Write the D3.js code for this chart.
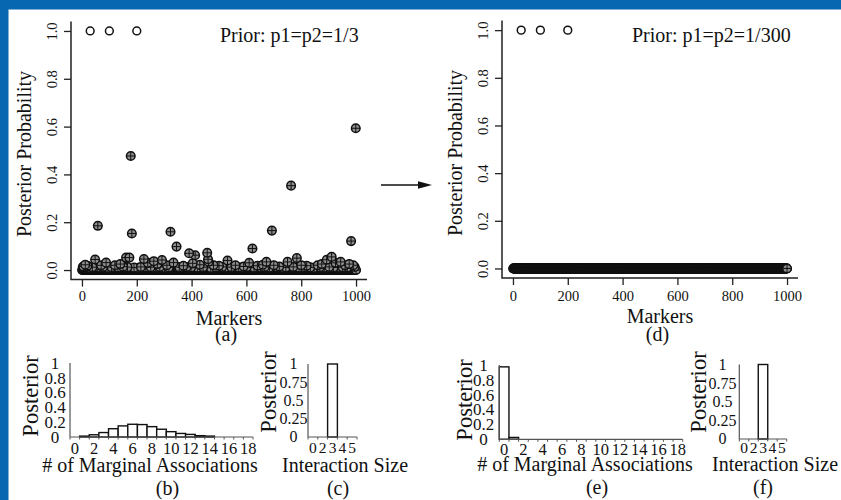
<!DOCTYPE html>
<html>
<head>
<meta charset="utf-8">
<script src="https://cdn.jsdelivr.net/npm/d3@7"></script>
<style>
  body { margin: 0; background: #fff; }
  text { font-family: "Liberation Serif", "Times New Roman", serif; fill: #111; }
</style>
</head>
<body>
<div id="fig"></div>
<script>
// ---- data ----
const markers = d3.range(1, 1001);            // marker index
const causalMarkers = [30, 100, 200];          // drawn as open circles
const causalPostA = [1, 1, 1];
const causalPostD = [1, 1, 1];

// markers in (a) with visible posterior above the baseline (all others ~0)
const outMarkersA = [58, 178, 182, 323, 345, 391, 413, 457, 460, 462, 622, 693, 763, 784, 982, 999,
  48, 88, 161, 173, 226, 262, 292, 334, 404, 531, 610, 673, 750, 893, 911, 944,
  5, 12, 20, 70, 120, 140, 240, 275, 310, 370, 430, 480, 500, 560, 590, 640, 660, 700, 720,
  800, 820, 860, 875, 925, 960, 975, 990,
  3, 9, 16, 27, 38, 44, 63, 77, 95, 108, 115, 131, 150, 166, 190, 207, 215, 233, 251, 268,
  284, 301, 317, 355, 363, 382, 398, 421, 442, 470, 489, 512, 523, 545, 572, 583, 601, 628,
  651, 667, 684, 711, 733, 744, 771, 792, 811, 833, 847, 868, 884, 902, 918, 933, 951, 968, 995];
const outPostA = [0.185, 0.477, 0.153, 0.16, 0.098, 0.07, 0.062, 0.072, 0.045, 0.035, 0.09, 0.165, 0.353, 0.05, 0.121, 0.593,
  0.044, 0.031, 0.052, 0.052, 0.046, 0.037, 0.042, 0.031, 0.028, 0.04, 0.03, 0.034, 0.034, 0.043, 0.055, 0.034,
  0.015, 0.022, 0.018, 0.02, 0.02, 0.025, 0.03, 0.025, 0.02, 0.018, 0.022, 0.02, 0.018, 0.02, 0.015, 0.018, 0.022, 0.02, 0.015,
  0.02, 0.018, 0.02, 0.025, 0.03, 0.02, 0.025, 0.02,
  0.012, 0.01, 0.014, 0.009, 0.012, 0.011, 0.01, 0.013, 0.009, 0.012, 0.01, 0.011, 0.014, 0.012, 0.01, 0.009, 0.013, 0.011, 0.012, 0.01,
  0.013, 0.009, 0.011, 0.012, 0.01, 0.013, 0.011, 0.01, 0.012, 0.009, 0.011, 0.013, 0.01, 0.012, 0.011, 0.009, 0.012, 0.01,
  0.011, 0.013, 0.01, 0.012, 0.009, 0.011, 0.013, 0.01, 0.012, 0.011, 0.009, 0.012, 0.01, 0.013, 0.011, 0.01, 0.012, 0.011, 0.013];

const margCats = d3.range(0, 19);
const margTicks = [0, 2, 4, 6, 8, 10, 12, 14, 16, 18];
const margPostB = [0, 0.012, 0.03, 0.06, 0.112, 0.15, 0.172, 0.168, 0.14, 0.105, 0.072, 0.048, 0.035, 0.018, 0.012, 0, 0, 0, 0];
const margPostE = [0.975, 0.025, 0, 0, 0, 0, 0, 0, 0, 0, 0, 0, 0, 0, 0, 0, 0, 0, 0];
const margYTicks = [0, 0.2, 0.4, 0.6, 0.8, 1];

const sizeCats = ["0", "2", "3", "4", "5"];
const sizePostC = [0, 0, 1, 0, 0];
const sizePostF = [0, 0, 1, 0, 0];
const sizeYTicks = [0, 0.25, 0.5, 0.75, 1];

const scatterXTicks = [0, 200, 400, 600, 800, 1000];
const scatterYTicks = [0, 0.2, 0.4, 0.6, 0.8, 1.0];

// ---- svg ----
const svg = d3.select("#fig").append("svg").attr("width", 841).attr("height", 500);
svg.append("rect").attr("width", 841).attr("height", 500).attr("fill", "#fff");
svg.append("rect").attr("x", 0).attr("y", 0).attr("width", 841).attr("height", 9.5).attr("fill", "#0767b1");
svg.append("rect").attr("x", 0).attr("y", 0).attr("width", 8.5).attr("height", 500).attr("fill", "#0767b1");

// arrow between the panels
svg.append("line").attr("x1", 381).attr("y1", 185).attr("x2", 421).attr("y2", 185)
  .attr("stroke", "#111").attr("stroke-width", 1.4);
svg.append("path").attr("d", "M 418,181.3 L 432,185 L 418,188.7 Z").attr("fill", "#111");

drawScatter = (cfg) => {
  const g = svg.append("g");
  const x = d3.scaleLinear().domain([-40, 1040]).range(cfg.xr);
  const y = d3.scaleLinear().domain([-0.04, 1.04]).range(cfg.yr);

  // L shaped box
  g.append("path").attr("d", "M " + cfg.xr[0] + "," + cfg.yr[1] + " L " + cfg.xr[0] + "," + cfg.yr[0] + " L " + cfg.xr[1] + "," + cfg.yr[0])
    .attr("fill", "none").attr("stroke", "#222").attr("stroke-width", 1.5);

  const ax = g.append("g").attr("transform", "translate(0," + cfg.yr[0] + ")")
    .call(d3.axisBottom(x).tickValues(scatterXTicks).tickSize(7).tickFormat(d3.format("d")));
  ax.select(".domain").remove();
  ax.selectAll("line").attr("stroke", "#222").attr("stroke-width", 1.3);
  ax.selectAll("text").attr("font-size", 14.5).attr("font-family", "Liberation Serif").attr("fill", "#111")
    .attr("y", cfg.xTickBase - cfg.yr[0]).attr("dy", 0);

  const ay = g.append("g").attr("transform", "translate(" + cfg.xr[0] + ",0)")
    .call(d3.axisLeft(y).tickValues(scatterYTicks).tickSize(7).tickFormat(d3.format(".1f")));
  ay.select(".domain").remove();
  ay.selectAll("line").attr("stroke", "#222").attr("stroke-width", 1.3);
  ay.selectAll("text").attr("font-size", 14.5).attr("font-family", "Liberation Serif").attr("fill", "#111")
    .attr("x", 0).attr("dy", 0).attr("text-anchor", "middle")
    .attr("transform", "translate(" + (cfg.yTickBase - cfg.xr[0]) + ",0) rotate(-90)");

  g.append("text").attr("x", cfg.xTitle[0]).attr("y", cfg.xTitle[1]).attr("text-anchor", "middle")
    .attr("font-size", 20).text("Markers");
  g.append("text").attr("x", cfg.sub[0]).attr("y", cfg.sub[1]).attr("text-anchor", "middle")
    .attr("font-size", 20).text(cfg.subText);
  g.append("text").attr("transform", "translate(" + cfg.yTitle[0] + "," + cfg.yTitle[1] + ") rotate(-90)")
    .attr("text-anchor", "middle").attr("font-size", 20).text("Posterior Probability");
  g.append("text").attr("x", cfg.prior[0]).attr("y", cfg.prior[1]).attr("font-size", 20).text(cfg.priorText);

  // circle-plus points
  const pts = markers.filter(m => causalMarkers.indexOf(m) < 0).map(m => {
    const k = cfg.outM.indexOf(m);
    return [m, k >= 0 ? cfg.outV[k] : 0];
  });
  // points sharing a marker in the outlier list (stacked values)
  cfg.outM.forEach((m, i) => { if (cfg.outM.indexOf(m) !== i) pts.push([m, cfg.outV[i]]); });
  pts.sort((a, b) => a[1] - b[1]);

  const r = 4.3;
  const pg = g.append("g").selectAll("g").data(pts).enter().append("g")
    .attr("transform", d => "translate(" + x(d[0]) + "," + y(d[1]) + ")");
  pg.append("circle").attr("r", r).attr("fill", "#8e8e8e").attr("stroke", "#111").attr("stroke-width", 1.5);
  pg.append("path").attr("d", "M " + (-r) + ",0 L " + r + ",0 M 0," + (-r) + " L 0," + r)
    .attr("stroke", "#111").attr("stroke-width", 1);

  g.append("g").selectAll("circle").data(causalMarkers).enter().append("circle")
    .attr("cx", d => x(d)).attr("cy", (d, i) => y(cfg.causalV[i])).attr("r", 3.9)
    .attr("fill", "none").attr("stroke", "#111").attr("stroke-width", 1.5);
}

drawBars = (cfg) => {
  const g = svg.append("g");
  const x = d3.scaleBand().domain(cfg.cats).range(cfg.xr).padding(0);
  const y = d3.scaleLinear().domain([0, 1]).range(cfg.yr);

  g.append("g").selectAll("rect").data(cfg.vals).enter().append("rect")
    .attr("x", (d, i) => x(cfg.cats[i])).attr("width", x.bandwidth())
    .attr("y", d => y(d)).attr("height", d => y(0) - y(d))
    .attr("fill", "#fff").attr("stroke", "#111").attr("stroke-width", 1.4);

  // axes lines
  g.append("line").attr("x1", cfg.xr[0]).attr("x2", cfg.xr[0]).attr("y1", cfg.yr[0]).attr("y2", cfg.yr[1])
    .attr("stroke", "#555").attr("stroke-width", 1.2);
  g.append("line").attr("x1", cfg.xr[0]).attr("x2", cfg.xr[1]).attr("y1", cfg.yr[0]).attr("y2", cfg.yr[0])
    .attr("stroke", "#555").attr("stroke-width", 1.2);
  // boundary tick marks
  g.append("g").selectAll("line").data(cfg.cats.concat(["end"])).enter().append("line")
    .attr("x1", (d, i) => cfg.xr[0] + i * x.step()).attr("x2", (d, i) => cfg.xr[0] + i * x.step())
    .attr("y1", cfg.yr[0]).attr("y2", cfg.yr[0] + 2.5).attr("stroke", "#555").attr("stroke-width", 1);

  g.append("g").selectAll("text").data(cfg.yTicks).enter().append("text")
    .attr("x", cfg.yLabX).attr("y", d => y(d)).attr("dy", "0.34em").attr("text-anchor", "middle")
    .attr("font-size", cfg.fs).text(d => d);
  g.append("g").selectAll("text").data(cfg.xTicks).enter().append("text")
    .attr("x", d => x(d) + x.bandwidth() / 2).attr("y", cfg.xTickBase).attr("text-anchor", "middle")
    .attr("font-size", cfg.xfs).text(d => d);

  g.append("text").attr("transform", "translate(" + cfg.yTitle[0] + "," + cfg.yTitle[1] + ") rotate(-90)")
    .attr("text-anchor", "middle").attr("font-size", 22.5).text("Posterior");
  g.append("text").attr("x", cfg.xTitle[0]).attr("y", cfg.xTitle[1]).attr("text-anchor", "middle")
    .attr("font-size", 20).text(cfg.xTitleText);
  g.append("text").attr("x", cfg.sub[0]).attr("y", cfg.sub[1]).attr("text-anchor", "middle")
    .attr("font-size", 20).text(cfg.subText);
}

drawScatter({xr: [71, 367], yr: [279.6, 21.4], xTickBase: 301.5, yTickBase: 57,
  xTitle: [229, 325], sub: [226, 341], subText: "(a)", yTitle: [31, 154],
  prior: [220, 42], priorText: "Prior: p1=p2=1/3",
  outM: outMarkersA, outV: outPostA, causalV: causalPostA});

drawScatter({xr: [502, 798], yr: [278, 20.6], xTickBase: 301, yTickBase: 488,
  xTitle: [660, 323], sub: [657.5, 341], subText: "(d)", yTitle: [462, 153],
  prior: [632, 42], priorText: "Prior: p1=p2=1/300",
  outM: [], outV: [], causalV: causalPostD});

drawBars({cats: margCats, vals: margPostB, xTicks: margTicks, yTicks: margYTicks,
  xr: [70, 253], yr: [437, 363], yLabX: 55, fs: 17, xfs: 16.5, xTickBase: 453.5,
  yTitle: [37.5, 396], xTitle: [150, 472], xTitleText: "# of Marginal Associations", sub: [167.5, 495], subText: "(b)"});

drawBars({cats: sizeCats, vals: sizePostC, xTicks: sizeCats, yTicks: sizeYTicks,
  xr: [308, 357], yr: [437, 364], yLabX: 293.5, fs: 16, xfs: 15.5, xTickBase: 452.5,
  yTitle: [275.5, 392], xTitle: [345, 472], xTitleText: "Interaction Size", sub: [338, 495], subText: "(c)"});

drawBars({cats: margCats, vals: margPostE, xTicks: margTicks, yTicks: margYTicks,
  xr: [499.3, 682.7], yr: [439.3, 365], yLabX: 483.5, fs: 17, xfs: 16.5, xTickBase: 454.5,
  yTitle: [472, 400], xTitle: [585, 471], xTitleText: "# of Marginal Associations", sub: [597, 494], subText: "(e)"});

drawBars({cats: sizeCats, vals: sizePostF, xTicks: sizeCats, yTicks: sizeYTicks,
  xr: [739.3, 786.7], yr: [439, 364.5], yLabX: 722.5, fs: 16, xfs: 15.5, xTickBase: 453,
  yTitle: [706, 392], xTitle: [775, 471], xTitleText: "Interaction Size", sub: [763, 494], subText: "(f)"});
</script>
</body>
</html>
